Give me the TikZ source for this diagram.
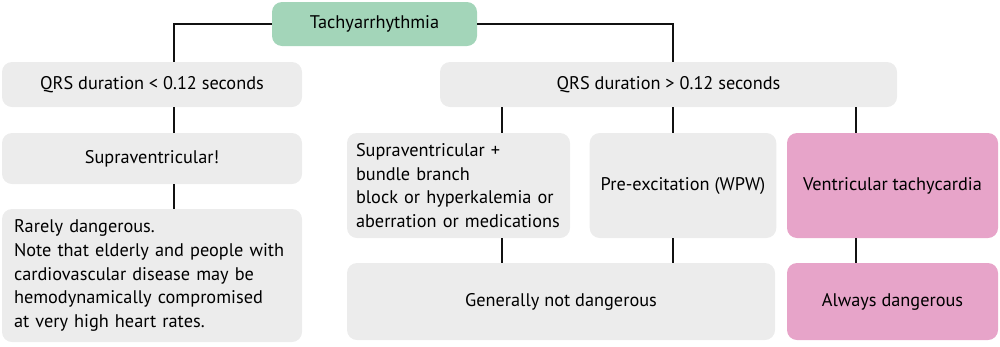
\documentclass[tikz,border=0pt]{standalone}
\usepackage{fontspec}
\setmainfont{PT Sans}
\usepackage{tikz}
\usetikzlibrary{positioning,calc}
\definecolor{rootgreen}{HTML}{A3D5B9}
\definecolor{plain}{HTML}{ECECEC}
\definecolor{danger}{HTML}{E7A4C9}
\definecolor{wire}{HTML}{111111}
\begin{document}
\begin{tikzpicture}[
  x=1pt, y=-1pt,
  every node/.style={font=\fontsize{18.3}{23.7}\selectfont, text=black},
  ecgbox/.style={
    fill=plain, draw=none, rounded corners=10pt,
    inner xsep=11pt, inner ysep=4pt, align=center,
  },
  leftbox/.style={ecgbox, align=left},
  rootbox/.style={ecgbox, fill=rootgreen},
  dangerbox/.style={ecgbox, fill=danger},
  link/.style={draw=wire, line width=2pt},
]
  \useasboundingbox (0,0) rectangle (1000,346);

  \node[rootbox, minimum width=205pt, minimum height=44pt] (tachy) at (374.5, 24) {Tachyarrhythmia};

  \node[ecgbox, minimum width=300pt, minimum height=45pt] (qrsnarrow) at (152, 84.5) {QRS duration < 0.12 seconds};
  \node[ecgbox, minimum width=457pt, minimum height=45pt] (qrswide) at (668.5, 84.5) {QRS duration > 0.12 seconds};

  \node[ecgbox, minimum width=300pt, minimum height=51pt] (supra) at (152, 158.5) {Supraventricular!};
  \node[leftbox, text width=276pt, minimum height=133pt, inner xsep=12pt] (rarely) at (152, 275.5) {Rarely dangerous.\\
    Note that elderly and people with\\
    cardiovascular disease may be\\
    hemodynamically compromised\\
    at very high heart rates.};

  \node[leftbox, text width=205pt, minimum height=105pt, inner xsep=9pt] (supraplus) at (458.5, 185.5) {Supraventricular +\\
    bundle branch\\
    block or hyperkalemia or\\
    aberration or medications};
  \node[ecgbox, minimum width=184pt, minimum height=105pt] (preexc) at (683, 185.5) {Pre-excitation (WPW)};
  \node[dangerbox, minimum width=211pt, minimum height=105pt] (vtach) at (892.5, 185.5) {Ventricular tachycardia};

  \node[ecgbox, minimum width=428pt, minimum height=77pt] (notdanger) at (561, 301.5) {Generally not dangerous};
  \node[dangerbox, minimum width=211pt, minimum height=77pt] (always) at (892.5, 301.5) {Always dangerous};

  % columns of the vertical links
  \coordinate (colA) at (174, 0);
  \coordinate (colB) at (502, 0);
  \coordinate (colC) at (673, 0);
  \coordinate (colD) at (856, 0);

  \draw[link] (tachy.west) -| (colA |- qrsnarrow.north);
  \draw[link] (tachy.east) -| (colC |- qrswide.north);

  \draw[link] (colA |- qrsnarrow.south) -- (colA |- supra.north);
  \draw[link] (colA |- supra.south) -- (colA |- rarely.north);

  \draw[link] (colB |- qrswide.south) -- (colB |- supraplus.north);
  \draw[link] (colC |- qrswide.south) -- (colC |- preexc.north);
  \draw[link] (colD |- qrswide.south) -- (colD |- vtach.north);

  \draw[link] (colB |- supraplus.south) -- (colB |- notdanger.north);
  \draw[link] (colC |- preexc.south) -- (colC |- notdanger.north);
  \draw[link] (colD |- vtach.south) -- (colD |- always.north);
\end{tikzpicture}
\end{document}
